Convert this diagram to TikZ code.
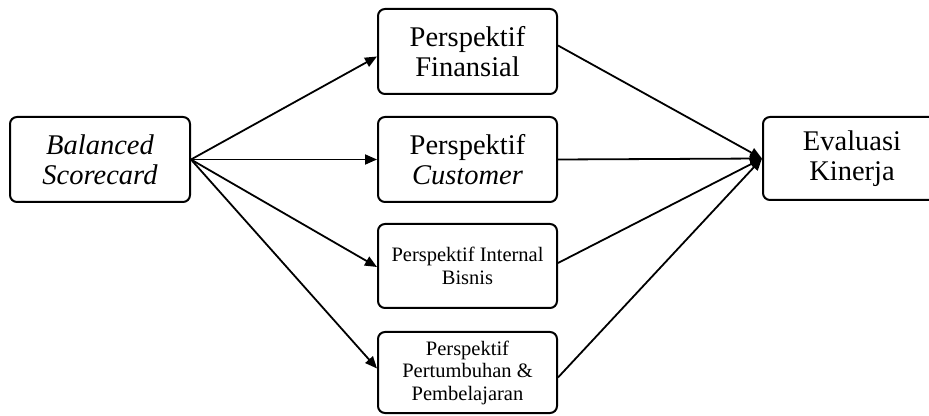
\documentclass[tikz,border=0pt]{standalone}
\usepackage{fontspec}
\setmainfont{Liberation Serif}
\usetikzlibrary{arrows.meta}

\begin{document}
\begin{tikzpicture}[x=1pt, y=1pt, line width=2pt,
	box/.style={draw, rounded corners=7pt, align=center, inner sep=0pt},
	bigtext/.style={font=\fontsize{28.5}{30}\selectfont},
	smalltext/.style={font=\fontsize{20.5}{22.5}\selectfont},
	link/.style={arrows={-{Triangle[length=12pt,width=10pt]}}, line width=1.8pt}]
	\useasboundingbox (0,0) rectangle (929,415);
	\node[box, bigtext, minimum width=180, minimum height=85] (bsc) at (100,255.5) {\itshape Balanced\\\itshape Scorecard};
	\node[box, bigtext, minimum width=179, minimum height=85] (fin) at (467.5,363.5) {Perspektif\\Finansial};
	\node[box, bigtext, minimum width=179, minimum height=85] (cus) at (467.5,255.5) {Perspektif\\\itshape Customer};
	\node[box, smalltext, minimum width=179, minimum height=84] (ibn) at (467.5,149) {Perspektif Internal\\Bisnis};
	\node[box, smalltext, minimum width=179, minimum height=81] (ptb) at (467.5,42.5) {Perspektif\\Pertumbuhan \&\\Pembelajaran};
	\node[box, bigtext, minimum width=178, minimum height=83] (eva) at (852,256.5) {Evaluasi\\Kinerja};
	\draw[link] (bsc.east) -- ([yshift=-5]fin.west);
	\draw[link] (bsc.east) -- (cus.west);
	\draw[link] (bsc.east) -- ([yshift=-1]ibn.west);
	\draw[link] (bsc.east) -- ([yshift=4]ptb.west);
	\draw[link] ([yshift=6]fin.east) -- (eva.west);
	\draw[link] (cus.east) -- (eva.west);
	\draw[link] ([yshift=3]ibn.east) -- (eva.west);
	\draw[link] ([yshift=-5]ptb.east) -- (eva.west);
\end{tikzpicture}
\end{document}
